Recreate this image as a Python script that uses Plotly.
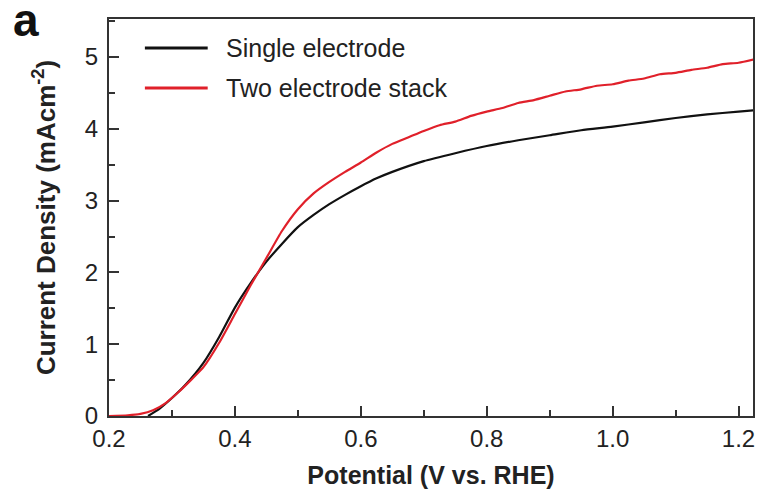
import plotly.graph_objects as go

# Single electrode (black)
v_single = [0.262, 0.28, 0.30, 0.32, 0.35, 0.375, 0.40, 0.425, 0.45, 0.475, 0.50, 0.525,
            0.55, 0.575, 0.60, 0.625, 0.65, 0.70, 0.75, 0.80, 0.85, 0.90, 0.95, 1.00,
            1.05, 1.10, 1.15, 1.20, 1.226]
j_single = [0.00, 0.10, 0.25, 0.42, 0.74, 1.10, 1.51, 1.85, 2.15, 2.40, 2.63, 2.80,
            2.95, 3.08, 3.20, 3.31, 3.40, 3.55, 3.66, 3.76, 3.84, 3.91, 3.98, 4.03,
            4.09, 4.15, 4.20, 4.24, 4.26]

# Two electrode stack (red)
v_stack = [0.20, 0.23, 0.25, 0.27, 0.29, 0.31, 0.33, 0.35, 0.375, 0.40, 0.425, 0.45,
           0.475, 0.50, 0.525, 0.55, 0.575, 0.60, 0.625, 0.65, 0.675, 0.70, 0.725,
           0.75, 0.775, 0.80, 0.825, 0.85, 0.875, 0.90, 0.925, 0.95, 0.975, 1.00,
           1.025, 1.05, 1.075, 1.10, 1.125, 1.15, 1.175, 1.20, 1.226]
j_stack = [0.00, 0.01, 0.03, 0.08, 0.18, 0.33, 0.50, 0.68, 1.02, 1.42, 1.82, 2.20,
           2.58, 2.88, 3.10, 3.26, 3.40, 3.53, 3.67, 3.79, 3.88, 3.97, 4.05,
           4.10, 4.18, 4.24, 4.29, 4.36, 4.40, 4.46, 4.52, 4.55, 4.60, 4.62,
           4.67, 4.70, 4.76, 4.78, 4.82, 4.85, 4.90, 4.92, 4.97]

x_ticks = [0.2, 0.4, 0.6, 0.8, 1.0, 1.2]
x_ticklabels = ["0.2", "0.4", "0.6", "0.8", "1.0", "1.2"]
y_ticks = [0, 1, 2, 3, 4, 5]

series_names = ["Single electrode", "Two electrode stack"]
series_colors = ["#111111", "#e0202a"]

FONT = "Liberation Sans, Arial"
W, H = 758, 496
L, R, T, B = 109, 3, 19, 80
pw, ph = W - L - R, H - T - B

fig = go.Figure()
fig.add_trace(go.Scatter(x=v_single, y=j_single, mode="lines", name=series_names[0],
                         line=dict(color=series_colors[0], width=2.2, shape="spline", smoothing=0.6),
                         showlegend=False))
fig.add_trace(go.Scatter(x=v_stack, y=j_stack, mode="lines", name=series_names[1],
                         line=dict(color=series_colors[1], width=2.2, shape="spline", smoothing=0.6),
                         showlegend=False))

axis_common = dict(
    showline=True, linecolor="#333333", linewidth=2, mirror=True,
    ticks="inside", ticklen=10, tickwidth=2, tickcolor="#333333",
    showgrid=False, zeroline=False,
    tickfont=dict(family=FONT, size=24, color="#222222"),
)

fig.update_xaxes(
    range=[0.2, 0.2 + pw / 631.5],
    tickvals=x_ticks, ticktext=x_ticklabels,
    minor=dict(dtick=0.1, tick0=0.2, ticks="inside", ticklen=6, tickwidth=2, tickcolor="#333333"),
    title=dict(text="<b>Potential (V vs. RHE)</b>", standoff=16,
               font=dict(family=FONT, size=25, color="#222222")),
    **axis_common,
)
fig.update_yaxes(
    range=[0, ph / 71.8],
    tickvals=y_ticks,
    minor=dict(dtick=0.5, tick0=0, ticks="inside", ticklen=6, tickwidth=2, tickcolor="#333333"),
    ticklabelstandoff=4,
    title=dict(text="<b>Current Density (mAcm<sup>-2</sup>)</b>", standoff=22,
               font=dict(family=FONT, size=26, color="#222222")),
    **axis_common,
)

# custom legend (layout elements in paper coordinates)
leg_y = [(H - B - 48) / ph, (H - B - 88) / ph]
for name, color, yy in zip(series_names, series_colors, leg_y):
    fig.add_shape(type="line", xref="paper", yref="paper",
                  x0=(145 - L) / pw, x1=(208 - L) / pw, y0=yy, y1=yy,
                  line=dict(color=color, width=3))
    fig.add_annotation(xref="paper", yref="paper", x=(224 - L) / pw, y=yy,
                       text=name, showarrow=False, xanchor="left", yanchor="middle",
                       font=dict(family=FONT, size=25, color="#222222"))

# panel label
fig.add_annotation(xref="paper", yref="paper", x=(11 - L) / pw, y=(H - B - 20) / ph,
                   text="<b>a</b>", showarrow=False, xanchor="left", yanchor="middle",
                   font=dict(family=FONT, size=46, color="#111111"))

fig.update_layout(
    width=W, height=H,
    margin=dict(l=L, r=R, t=T, b=B),
    paper_bgcolor="white", plot_bgcolor="white",
)

fig.write_html("out.html")
